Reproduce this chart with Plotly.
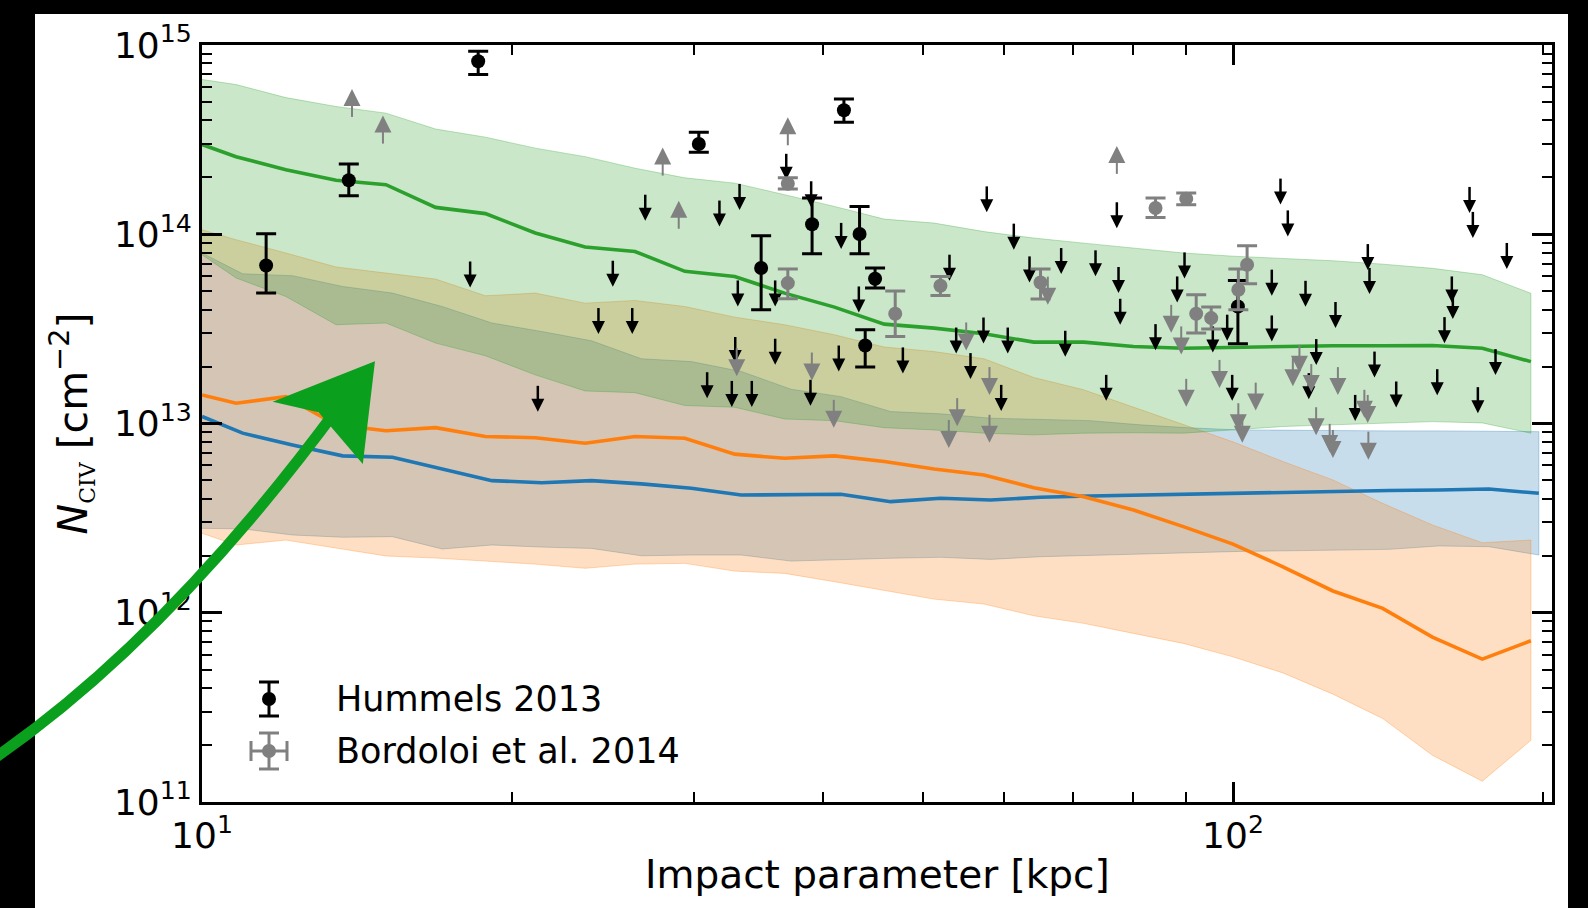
import plotly.graph_objects as go

# ---------------- model bands (impact parameter in kpc, log10 N_CIV) ----------------
b_model = [10.0, 10.79, 12.06, 13.49, 15.08, 16.85, 18.83, 21.05, 23.53, 26.30, 29.40, 32.86, 36.73, 41.06,
           45.89, 51.30, 57.34, 64.09, 71.64, 80.07, 89.50, 100.0, 111.8, 125.0, 139.7, 156.1, 174.5, 194.5]
b_blue = [10.0, 10.95, 12.24, 13.69, 15.30, 17.10, 19.11, 21.36, 23.87, 26.68, 29.83, 33.34, 37.27, 41.66,
          46.56, 52.05, 58.18, 65.03, 72.69, 81.24, 90.81, 101.5, 113.4, 126.8, 141.7, 158.4, 177.1, 198.0]

green_hi = [14.818, 14.791, 14.722, 14.675, 14.640, 14.556, 14.513, 14.455, 14.410, 14.349, 14.298, 14.270, 14.209, 14.147,
            14.080, 14.059, 14.014, 13.980, 13.953, 13.926, 13.901, 13.884, 13.873, 13.860, 13.842, 13.820, 13.786, 13.688]
green_med = [14.474, 14.410, 14.341, 14.285, 14.262, 14.142, 14.109, 14.007, 13.933, 13.909, 13.804, 13.777, 13.689, 13.615,
             13.525, 13.504, 13.474, 13.430, 13.430, 13.407, 13.398, 13.403, 13.405, 13.411, 13.411, 13.412, 13.398, 13.327]
green_lo = [13.892, 13.769, 13.671, 13.522, 13.531, 13.425, 13.358, 13.257, 13.172, 13.163, 13.095, 13.086, 13.024, 13.015,
            12.978, 12.966, 12.949, 12.940, 12.949, 12.951, 12.949, 12.966, 12.984, 12.993, 13.003, 13.010, 13.003, 12.949]

orange_hi = [14.024, 13.971, 13.901, 13.827, 13.795, 13.763, 13.675, 13.689, 13.636, 13.650, 13.618, 13.562, 13.522, 13.469,
             13.404, 13.380, 13.342, 13.243, 13.178, 13.086, 12.993, 12.903, 12.799, 12.702, 12.578, 12.464, 12.370, 12.384]
orange_med = [13.151, 13.107, 13.142, 12.993, 12.962, 12.978, 12.931, 12.925, 12.896, 12.931, 12.922, 12.838, 12.816, 12.829,
              12.799, 12.760, 12.728, 12.661, 12.613, 12.543, 12.455, 12.363, 12.243, 12.115, 12.023, 11.871, 11.755, 11.852]
orange_lo = [12.420, 12.358, 12.384, 12.342, 12.300, 12.289, 12.273, 12.257, 12.235, 12.257, 12.261, 12.220, 12.208, 12.164,
             12.120, 12.072, 12.046, 11.984, 11.944, 11.891, 11.838, 11.767, 11.682, 11.570, 11.441, 11.247, 11.110, 11.326]

blue_hi = [13.901, 13.791, 13.781, 13.724, 13.689, 13.618, 13.531, 13.486, 13.437, 13.342, 13.327, 13.275, 13.181, 13.142,
           13.063, 13.051, 13.028, 13.022, 13.015, 12.993, 12.977, 12.966, 12.964, 12.961, 12.961, 12.961, 12.959, 12.957]
blue_med = [13.037, 12.949, 12.887, 12.829, 12.822, 12.758, 12.698, 12.687, 12.698, 12.681, 12.658, 12.622, 12.626, 12.626,
            12.587, 12.605, 12.596, 12.610, 12.617, 12.622, 12.628, 12.635, 12.638, 12.644, 12.646, 12.649, 12.654, 12.631]
blue_lo = [12.446, 12.443, 12.411, 12.399, 12.402, 12.337, 12.358, 12.347, 12.340, 12.301, 12.305, 12.305, 12.273, 12.282,
           12.288, 12.293, 12.282, 12.296, 12.305, 12.310, 12.317, 12.324, 12.328, 12.331, 12.335, 12.353, 12.349, 12.305]

# ---------------- Hummels 2013 ----------------
hum_b = [18.53, 13.88, 11.54, 30.33, 41.94, 39.06, 43.43, 34.86, 44.96, 43.98, 101.1]
hum_logN = [14.914, 14.285, 13.835, 14.477, 14.655, 14.053, 14.001, 13.822, 13.765, 13.412, 13.618]
hum_hi = [14.967, 14.371, 14.003, 14.539, 14.715, 14.192, 14.147, 13.992, 13.822, 13.495, 13.756]
hum_lo = [14.844, 14.204, 13.689, 14.433, 14.592, 13.897, 13.897, 13.601, 13.716, 13.298, 13.421]

hum_ul_b = [18.20, 21.17, 25.03, 24.24, 26.14, 26.91, 30.90, 31.76, 32.65, 32.90, 33.09, 33.22, 34.14, 35.97, 35.97,
            36.87, 38.92, 38.98, 41.46, 41.68, 43.36, 47.84, 53.09, 53.89, 55.64, 57.28, 57.70, 59.59, 60.47, 61.29,
            63.48, 68.13, 68.75, 73.56, 75.34, 77.15, 77.44, 77.73, 84.11, 88.28, 89.74, 95.59, 98.71, 99.82, 109.05,
            109.05, 111.19, 113.02, 117.58, 118.45, 120.43, 125.72, 131.37, 135.13, 135.64, 137.17, 143.98, 157.79,
            160.38, 163.02, 163.39, 169.60, 170.86, 172.78, 179.73, 184.32]
hum_ul_logN = [13.856, 13.199, 13.860, 13.610, 13.610, 14.209, 13.271, 14.178, 13.225, 13.457, 13.756, 14.266, 13.225,
               13.756, 13.448, 14.425, 13.231, 14.280, 13.412, 14.060, 13.724, 13.402, 13.892, 13.507, 13.372, 13.560,
               14.253, 13.204, 13.507, 14.056, 13.883, 13.927, 13.490, 13.915, 13.257, 14.169, 13.827, 13.659, 13.525,
               13.777, 13.904, 13.513, 13.575, 13.257, 13.813, 13.571, 14.294, 14.126, 13.754, 13.266, 13.446, 13.642,
               13.151, 13.948, 13.822, 13.380, 13.222, 13.287, 13.562, 13.777, 13.689, 14.250, 14.118, 13.192, 13.393,
               13.954]

# ---------------- Bordoloi et al. 2014 ----------------
bor_b = [37.00, 37.00, 47.03, 52.03, 65.06, 84.11, 90.08, 92.11, 95.25, 101.2, 103.2]
bor_logN = [14.267, 13.742, 13.580, 13.728, 13.745, 14.139, 14.188, 13.580, 13.557, 13.707, 13.839]
bor_hi = [14.298, 13.816, 13.700, 13.777, 13.816, 14.192, 14.218, 13.680, 13.615, 13.816, 13.939]
bor_lo = [14.239, 13.659, 13.460, 13.677, 13.658, 14.089, 14.156, 13.478, 13.499, 13.601, 13.738]

bor_ul_b = [33.01, 39.04, 41.00, 53.01, 54.01, 55.11, 58.05, 58.05, 66.13, 87.11, 89.08, 90.08, 97.03, 101.2, 102.1,
            105.2, 114.3, 116.0, 119.1, 120.4, 124.1, 125.0, 126.4, 134.1, 135.1, 135.3]
bor_ul_logN = [13.398, 13.375, 13.125, 13.019, 13.134, 13.534, 13.298, 13.046, 13.776, 13.627, 13.513, 13.236, 13.336,
               13.107, 13.046, 13.216, 13.345, 13.416, 13.314, 13.086, 12.998, 12.966, 13.298, 13.178, 13.151, 12.957]

bor_ll_b = [13.98, 14.98, 27.98, 29.00, 37.00, 77.15]
bor_ll_logN = [14.620, 14.479, 14.310, 14.029, 14.470, 14.319]

# ---------------- layout constants ----------------
W, H = 1588, 908
PL, PR, PT, PB = 202, 1552, 45, 802
X_RANGE = [1.0, 1.0 + (PR - PL) / 1031.0]
Y_RANGE = [11, 15]
PX_PER_DEX = (PB - PT) / 4.0

FONT = "DejaVu Sans"
GRAY = "rgb(128,128,128)"
C_BLUE, C_ORANGE, C_GREEN = (31, 119, 180), (255, 127, 14), (44, 160, 44)


def px(x):
    return (x - PL) / (PR - PL)


def py(y):
    return (PB - y) / (PB - PT)


def pw(v):
    return [10 ** a for a in v]


fig = go.Figure()

# bands
for xs, hi, lo, c in [(b_blue, blue_hi, blue_lo, C_BLUE),
                      (b_model, orange_hi, orange_lo, C_ORANGE),
                      (b_model, green_hi, green_lo, C_GREEN)]:
    fig.add_trace(go.Scatter(
        x=list(xs) + list(xs)[::-1], y=pw(hi) + pw(lo)[::-1], mode="lines", fill="toself",
        fillcolor="rgba(%d,%d,%d,0.25)" % c, line=dict(color="rgba(%d,%d,%d,0.3)" % c, width=1),
        hoverinfo="skip", showlegend=False))

# median lines
for xs, med, c in [(b_blue, blue_med, C_BLUE), (b_model, orange_med, C_ORANGE), (b_model, green_med, C_GREEN)]:
    fig.add_trace(go.Scatter(x=xs, y=pw(med), mode="lines",
                             line=dict(color="rgb(%d,%d,%d)" % c, width=3.6), showlegend=False))


def detections(xs, v, hi, lo, color):
    y = pw(v)
    fig.add_trace(go.Scatter(
        x=xs, y=y, mode="markers", marker=dict(color=color, size=14, line=dict(width=0)),
        error_y=dict(type="data", symmetric=False,
                     array=[10 ** h - yy for h, yy in zip(hi, y)],
                     arrayminus=[yy - 10 ** l for l, yy in zip(lo, y)],
                     color=color, thickness=3, width=10),
        showlegend=False))


def limits(xs, v, color, stem_w, head, length_px, up):
    d = length_px / PX_PER_DEX
    tips = [a + d if up else a - d for a in v]
    ends = [t - 0.6 * head / PX_PER_DEX if up else t + 0.6 * head / PX_PER_DEX for t in tips]
    X, Y = [], []
    for x, a, e in zip(xs, v, ends):
        X += [x, x, None]
        Y += [10 ** a, 10 ** e, None]
    fig.add_trace(go.Scatter(x=X, y=Y, mode="lines", line=dict(color=color, width=stem_w),
                             hoverinfo="skip", showlegend=False))
    fig.add_trace(go.Scatter(x=xs, y=pw(tips), mode="markers",
                             marker=dict(symbol="arrow-up" if up else "arrow-down", size=head,
                                         color=color, line=dict(width=0)),
                             showlegend=False))


detections(hum_b, hum_logN, hum_hi, hum_lo, "black")
limits(hum_ul_b, hum_ul_logN, "black", 2.5, 13, 26, False)
detections(bor_b, bor_logN, bor_hi, bor_lo, GRAY)
limits(bor_ul_b, bor_ul_logN, GRAY, 2, 17, 28, False)
limits(bor_ll_b, bor_ll_logN, GRAY, 2, 17, 28, True)

# ---------------- axes ----------------
x_minor = [20, 30, 40, 50, 60, 70, 80, 90, 200]
y_minor = [m * 10 ** e for e in range(11, 15) for m in range(2, 10)]
axis_common = dict(type="log", ticks="inside", ticklen=20, tickwidth=2.5, tickcolor="black",
                   showline=True, linewidth=3, linecolor="black", mirror="allticks",
                   showgrid=False, zeroline=False, tickfont=dict(family=FONT, size=36, color="black"))
fig.update_xaxes(range=X_RANGE, tickvals=[10, 100], ticktext=["10<sup>1</sup>", "10<sup>2</sup>"],
                 minor=dict(tickvals=x_minor, ticks="inside", ticklen=10, tickwidth=2, tickcolor="black",
                            showgrid=False), **axis_common)
fig.update_yaxes(range=Y_RANGE, tickvals=[10 ** e for e in range(11, 16)],
                 ticktext=["10<sup>%d</sup>" % e for e in range(11, 16)],
                 minor=dict(tickvals=y_minor, ticks="inside", ticklen=10, tickwidth=2, tickcolor="black",
                            showgrid=False), **axis_common)

shapes = []
# black frame around the picture
for x0, x1, y0, y1 in [(0, 35, 908, 0), (0, W, 14, 0), (1568, W, 908, 0)]:
    shapes.append(dict(type="rect", xref="paper", yref="paper", x0=px(x0), x1=px(x1), y0=py(y0), y1=py(y1),
                       fillcolor="black", line=dict(width=0), layer="above"))


def seg(x0, y0, x1, y1, color, w):
    shapes.append(dict(type="line", xref="paper", yref="paper", x0=px(x0), y0=py(y0), x1=px(x1), y1=py(y1),
                       line=dict(color=color, width=w), layer="above"))


def dot(cx, cy, r, color):
    shapes.append(dict(type="circle", xref="paper", yref="paper", x0=px(cx - r), x1=px(cx + r),
                       y0=py(cy + r), y1=py(cy - r), fillcolor=color, line=dict(width=0), layer="above"))


# legend handles
lx = 269
seg(lx, 682, lx, 716, "black", 3)
seg(lx - 10, 682, lx + 10, 682, "black", 3)
seg(lx - 10, 716, lx + 10, 716, "black", 3)
dot(lx, 699, 7, "black")
seg(lx, 733, lx, 769, GRAY, 3)
seg(lx - 10, 733, lx + 10, 733, GRAY, 3)
seg(lx - 10, 769, lx + 10, 769, GRAY, 3)
seg(lx - 18, 751, lx + 18, 751, GRAY, 3)
seg(lx - 18, 741, lx - 18, 761, GRAY, 3)
seg(lx + 18, 741, lx + 18, 761, GRAY, 3)
dot(lx, 751, 7, GRAY)

# hand-drawn green arrow (smooth curved shaft + head)
ARROW = "#0aa01e"
p0, p1, p2 = (-4, 757), (170, 636), (340, 405)
path = "M%.5f,%.5f Q%.5f,%.5f %.5f,%.5f" % (px(p0[0]), py(p0[1]), px(p1[0]), py(p1[1]), px(p2[0]), py(p2[1]))
shapes.append(dict(type="path", xref="paper", yref="paper", path=path,
                   line=dict(color=ARROW, width=11), layer="above"))
head = [(372, 365), (281, 401), (320, 410), (361, 458)]
hpath = "M" + " L".join("%.5f,%.5f" % (px(a), py(b)) for a, b in head) + " Z"
shapes.append(dict(type="path", xref="paper", yref="paper", path=hpath, fillcolor=ARROW,
                   line=dict(color=ARROW, width=5), layer="above"))

annotations = [
    dict(text="Hummels 2013", x=px(334), y=py(699), xref="paper", yref="paper", xanchor="left",
         yanchor="middle", showarrow=False, font=dict(family=FONT, size=35, color="black")),
    dict(text="Bordoloi et al. 2014", x=px(334), y=py(751), xref="paper", yref="paper", xanchor="left",
         yanchor="middle", showarrow=False, font=dict(family=FONT, size=35, color="black")),
    dict(text="Impact parameter [kpc]", x=0.5, y=py(874), xref="paper", yref="paper", xanchor="center",
         yanchor="middle", showarrow=False, font=dict(family=FONT, size=39, color="black")),
    dict(text='<i>N</i><sub><span style="font-family:DejaVu Serif;font-size:22px">CIV</span></sub> [cm<sup>\u22122</sup>]',
         x=px(71), y=0.5, xref="paper", yref="paper", xanchor="center", yanchor="middle", textangle=-90,
         showarrow=False, font=dict(family=FONT, size=41, color="black")),
]

fig.update_layout(width=W, height=H, margin=dict(l=PL, r=W - PR, t=PT, b=H - PB, pad=0),
                  paper_bgcolor="white", plot_bgcolor="white", showlegend=False,
                  font=dict(family=FONT, color="black"), shapes=shapes, annotations=annotations)

fig.write_html("out.html")
